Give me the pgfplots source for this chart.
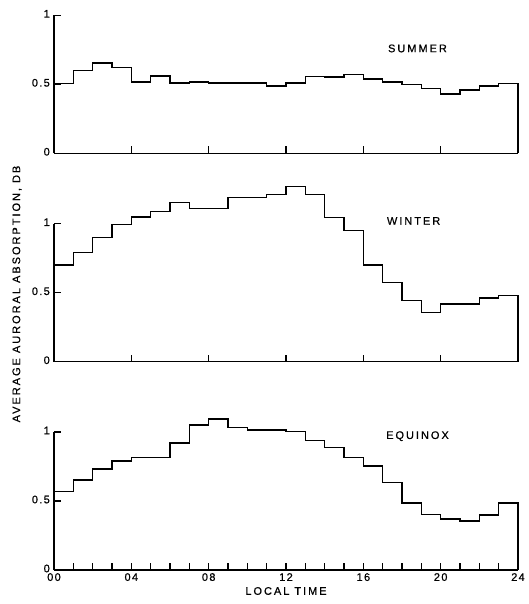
\documentclass[border=0pt]{standalone}
\usepackage{fontspec}
\setmainfont{Liberation Sans}[LetterSpace=12, FakeBold=0.6]
\newfontfamily\lab{Liberation Sans}[LetterSpace=18, FakeBold=0.6]
\usepackage{pgfplots}
\usepackage{pgfplotstable}
\pgfplotsset{compat=1.18}
\pgfplotstableread{
h summer winter equinox
0 0.506 0.702 0.569
1 0.600 0.790 0.654
2 0.655 0.900 0.731
3 0.620 0.995 0.790
4 0.518 1.049 0.814
5 0.560 1.090 0.814
6 0.510 1.155 0.922
7 0.518 1.109 1.050
8 0.510 1.109 1.095
9 0.510 1.190 1.033
10 0.510 1.190 1.014
11 0.488 1.212 1.014
12 0.508 1.268 1.002
13 0.558 1.210 0.939
14 0.552 1.046 0.888
15 0.572 0.951 0.816
16 0.537 0.702 0.755
17 0.515 0.574 0.634
18 0.500 0.443 0.484
19 0.468 0.356 0.404
20 0.430 0.417 0.370
21 0.458 0.417 0.355
22 0.488 0.460 0.400
23 0.504 0.479 0.484
24 0 0 0
}\data
\pgfplotsset{panel/.style={
  scale only axis, width=464pt, height=138pt,
  xmin=0, xmax=24, ymin=0, ymax=1,
  axis x line=bottom, axis y line=left,
  axis line style={line width=1.2pt, -, black},
  tick align=inside, major tick length=7pt,
  tick style={line width=1.1pt, black},
  ytick={0,0.5,1}, yticklabels={0,0.5,1},
  tick label style={font=\fontsize{11}{13}\selectfont},
  yticklabel style={inner sep=1pt, xshift=-3pt, yshift=1.5pt},
  /pgf/number format/assume math mode=true,
  clip=false, anchor=south west,
}, hist/.style={const plot, black, line width=1.5pt, mark=none}}
\begin{document}
\begin{tikzpicture}
\path[use as bounding box] (0pt,0pt) rectangle (528pt,-604pt);
% Summer
\begin{axis}[panel, at={(54pt,-153.3pt)}, xtick={4,8,12,16,20}, xticklabels={}]
\addplot[hist] table[x=h, y=summer] {\data};
\node[font=\lab\fontsize{11}{13}\selectfont] at (axis cs:18.8,0.76) {SUMMER};
\end{axis}
% Winter
\begin{axis}[panel, at={(54pt,-361.7pt)}, xtick={4,8,12,16,20}, xticklabels={}]
\addplot[hist] table[x=h, y=winter] {\data};
\node[font=\lab\fontsize{11}{13}\selectfont] at (axis cs:18.6,1.02) {WINTER};
\end{axis}
% Equinox
\begin{axis}[panel, at={(54pt,-570pt)}, xtick={0,1,...,24},
  xticklabels={00,,,,04,,,,08,,,,12,,,,16,,,,20,,,,24},
  xticklabel style={inner sep=1pt, yshift=-2pt},
  xlabel={LOCAL TIME}, xlabel style={font=\lab\fontsize{11}{13}\selectfont, at={(axis description cs:0.5,0)}, anchor=center, yshift=-21pt}]
\addplot[hist] table[x=h, y=equinox] {\data};
\node[font=\lab\fontsize{11}{13}\selectfont] at (axis cs:18.8,0.97) {EQUINOX};
\end{axis}
\node[rotate=90, font=\lab\fontsize{11}{13}\selectfont] at (17pt,-294pt) {AVERAGE AURORAL ABSORPTION, DB};
\end{tikzpicture}
\end{document}
